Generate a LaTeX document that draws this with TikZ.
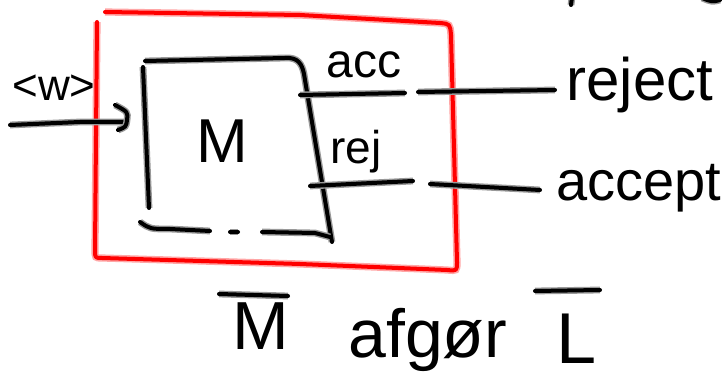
\documentclass[tikz,border=0pt]{standalone}
\usepackage{fontspec}
\setmainfont{Liberation Sans}
\begin{document}
\begin{tikzpicture}[x=0.5pt,y=-0.5pt,
  ink/.style={line width=2pt, line cap=round, line join=round, black,
    preaction={draw=black!40, line width=3.4pt}},
  redink/.style={line width=2pt, line cap=round, line join=round, red,
    preaction={draw=red!35, line width=3.6pt}},
  hand/.style={inner sep=0pt, anchor=base west},
  fs/.style={font=\fontsize{#1}{#1}\selectfont}]
\useasboundingbox (0,0) rectangle (727,378);

% red frame around the machine
\draw[redink] (105,12) -- (300,15) -- (440,23) .. controls (450,24) .. (451,35)
  -- (457,262) .. controls (457,271) .. (447,270) -- (300,264) -- (102,258)
  .. controls (95,258) .. (95,250) -- (97,22);

% machine M
\coordinate (mtl) at (145,61);
\coordinate (mtr) at (304,74);
\coordinate (mbr) at (332,242);
\draw[ink] (mtl) -- (285,58) .. controls (298,57) and (302,64) .. (mtr) -- (mbr);
\draw[ink] (143,67) -- (149,208);
\draw[ink] (140,222) .. controls (150,229) .. (170,229) -- (210,231);
\draw[ink] (230,232) -- (238,232);
\draw[ink] (262,232) -- (315,233) -- (330,237);
\node[hand, fs=31] (m) at (196,163) {M};

% input
\coordinate (inl) at (10,125);
\coordinate (inr) at (125,122);
\draw[ink] (inl) -- (80,122) -- (inr);
\draw[ink] (115,105) .. controls (128,112) .. (127,120) .. controls (126,127) .. (118,130);
\node[hand, fs=22] (w) at (12,101) {<w>};

% acc exit, relabelled reject
\node[hand, fs=24] (acc) at (326,78) {acc};
\node[hand, fs=30] (reject) at (566,101) {reject};
\coordinate (acca) at (300,95);
\coordinate (accb) at (405,93);
\coordinate (accc) at (418,92);
\draw[ink] (acca) -- (accb);
\draw[ink] (accc) -- (555,90);

% rej exit, relabelled accept
\node[hand, fs=23] (rej) at (330,164) {rej};
\node[hand, fs=28] (accept) at (556,201) {accept};
\coordinate (reja) at (310,186);
\coordinate (rejb) at (413,181);
\coordinate (rejc) at (430,184);
\draw[ink] (reja) -- (rejb);
\draw[ink] (rejc) -- (540,190);

% caption
\node[hand, fs=34] (mbar) at (232,350) {M};
\draw[ink] (219,294) -- (288,296);
\node[hand, fs=34] (afgor) at (348,358) {afgør};
\node[hand, fs=36] (lbar) at (556,364) {L};
\draw[ink] (535,291) -- (600,290);

% strokes cut off at the top edge
\draw[ink] (572,-3) -- (571,5);
\draw[ink] (702,-2) .. controls (712,2) .. (720,0);
\end{tikzpicture}
\end{document}
